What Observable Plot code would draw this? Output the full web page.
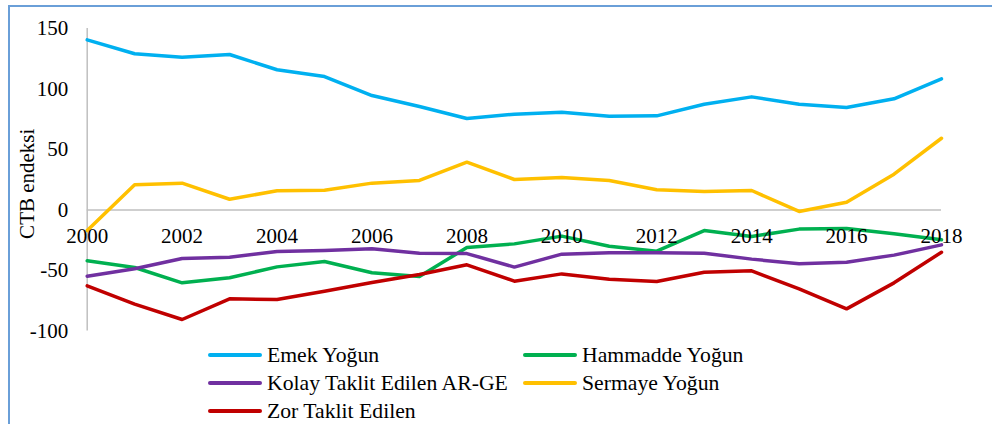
<!DOCTYPE html>
<html>
<head>
<meta charset="utf-8">
<script src="https://cdn.jsdelivr.net/npm/d3@7"></script>
<script src="https://cdn.jsdelivr.net/npm/@observablehq/plot@0.6"></script>
<style>
  html, body { margin: 0; padding: 0; background: #fff; overflow: hidden; }
  body { width: 992px; height: 424px; position: relative; font-family: 'Liberation Serif', serif; }
  #frame { position: absolute; left: 8px; top: 5px; width: 1000px; height: 440px; border: 2px solid #6a9fd8; box-sizing: border-box; }
  #chart { position: absolute; left: 0; top: 0; }
  #legend { position: absolute; left: 0; top: 0; width: 992px; height: 424px; pointer-events: none; }
  .item { position: absolute; display: flex; align-items: center; font-family: 'Liberation Serif', serif; font-size: 21.7px; color: #000; white-space: nowrap; height: 28px; }
  .sw { width: 54px; height: 4px; margin-right: 5px; border-radius: 2px; }
  svg text { font-family: 'Liberation Serif', serif !important; }
</style>
</head>
<body>
<div id="frame"></div>
<div id="chart"></div>
<div id="legend"></div>
<script>
const years = [2000,2001,2002,2003,2004,2005,2006,2007,2008,2009,2010,2011,2012,2013,2014,2015,2016,2017,2018];
const seriesNames = ["Emek Yoğun","Hammadde Yoğun","Kolay Taklit Edilen AR-GE","Sermaye Yoğun","Zor Taklit Edilen"];
const seriesColors = ["#00B0F0","#00B050","#7030A0","#FFC000","#C00000"];
const emekYogun     = [140.6,129.1,126.3,128.5,115.9,110.3,94.6,85.5,75.6,79.2,80.8,77.5,77.8,87.4,93.5,87.4,84.7,91.9,108.4];
const hammaddeYogun = [-42,-47.5,-60.2,-56,-47,-42.6,-51.9,-55,-31,-28,-21.6,-29.9,-34,-17,-21.9,-15.8,-15.3,-19.7,-24.6];
const kolayTaklit   = [-54.7,-48.6,-40.1,-39,-34.3,-33.5,-32.1,-35.7,-36,-47.2,-36.5,-35.4,-35.4,-35.7,-40.6,-44.5,-43.1,-37.3,-28.8];
const sermayeYogun  = [-17,20.8,22.2,8.9,15.9,16.4,22.2,24.4,39.5,25.2,26.9,24.4,16.7,15.3,16.1,-1.2,6.4,29.6,59.3];
const zorTaklit     = [-62.7,-77.8,-90.5,-73.4,-74,-67.1,-59.9,-53.3,-45.3,-58.8,-52.8,-57.2,-59.1,-51.4,-50.3,-65.1,-81.7,-60.2,-34.9];
const xTicks = [2000,2002,2004,2006,2008,2010,2012,2014,2016,2018];
const yTicks = [-100,-50,0,50,100,150];
const yLabel = "CTB endeksi";

const allSeries = [emekYogun, hammaddeYogun, kolayTaklit, sermayeYogun, zorTaklit];
const rows = [];
allSeries.forEach((vals, i) => vals.forEach((v, j) => rows.push({year: years[j], value: v, series: seriesNames[i]})));
const font = "'Liberation Serif', serif";

const chart = Plot.plot({
  width: 992,
  height: 345,
  marginLeft: 86.7,
  marginRight: 51,
  marginTop: 28,
  marginBottom: 14.5,
  style: {fontFamily: font, fontSize: "21px", color: "#000", background: "transparent", overflow: "visible"},
  x: {domain: [2000, 2018], axis: null},
  y: {domain: [-100, 150]},
  color: {domain: seriesNames, range: seriesColors},
  marks: [
    Plot.ruleY([0], {x1: 2000, x2: 2018, stroke: "#bfbfbf", strokeWidth: 1.5}),
    Plot.ruleX([2000], {y1: -100, y2: 150, stroke: "#bfbfbf", strokeWidth: 1.5}),
    Plot.axisY(yTicks, {tickSize: 0, tickPadding: 19, fontSize: 21, fontFamily: font, tickFormat: d => String(d), label: null}),
    Plot.text([yLabel], {frameAnchor: "left", textAnchor: "middle", lineAnchor: "middle", dx: -60, dy: 4, rotate: -90, text: d => d, fontSize: 21, fontFamily: font, fill: "#000"}),
    Plot.line(rows, {x: "year", y: "value", z: "series", stroke: "series", strokeWidth: 3.5, strokeLinejoin: "round", strokeLinecap: "round"}),
    Plot.text(xTicks, {x: d => d, y: 0, dy: 26, text: d => String(d), fontSize: 21, fontFamily: font, fill: "#000"})
  ]
});
document.getElementById("chart").appendChild(chart);

const legendPos = [
  {left: 208, top: 341}, {left: 523, top: 341},
  {left: 208, top: 369}, {left: 523, top: 369},
  {left: 208, top: 397}
];
const leg = document.getElementById("legend");
seriesNames.forEach((name, i) => {
  const d = document.createElement("div");
  d.className = "item";
  d.style.left = legendPos[i].left + "px";
  d.style.top = legendPos[i].top + "px";
  const s = document.createElement("span");
  s.className = "sw";
  s.style.background = seriesColors[i];
  const t = document.createElement("span");
  t.textContent = name;
  d.appendChild(s); d.appendChild(t);
  leg.appendChild(d);
});
</script>
</body>
</html>
